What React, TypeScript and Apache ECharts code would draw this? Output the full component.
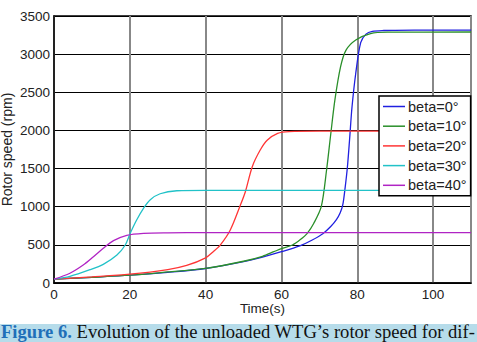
import React, { useEffect, useRef } from "react";
import * as echarts from "echarts";

const seriesNames = ["beta=0°", "beta=10°", "beta=20°", "beta=30°", "beta=40°"];
const seriesColors = ["#2020e0", "#2a8f2a", "#ff3535", "#22c2c8", "#b024c4"];

const beta0: [number, number][] = [
  [0, 50], [10, 75], [20, 102], [30, 140], [40, 190], [50, 280], [55, 340], [60, 410],
  [65, 490], [68, 560], [71, 650], [73, 740], [74.5, 830], [75.5, 920], [76.2, 1030],
  [76.8, 1250], [77.4, 1520], [78, 1900], [78.6, 2300], [79.6, 2750], [80.9, 3150], [82.3, 3262],
  [84, 3298], [87, 3310], [90, 3312], [100, 3315], [110, 3315],
];
const beta10: [number, number][] = [
  [0, 50], [10, 75], [20, 102], [30, 145], [40, 192], [50, 285], [55, 350], [58, 410],
  [60, 450], [62.9, 498], [65, 570], [66.8, 651], [68.5, 780], [70.5, 1000], [71.9, 1481],
  [73, 1950], [74.1, 2400], [75.6, 2835], [77, 3050], [79.6, 3185], [83.5, 3270],
  [88, 3288], [110, 3290],
];
const beta20: [number, number][] = [
  [0, 50], [10, 80], [20, 115], [30, 175], [35, 230], [40, 330], [42, 410], [43.9, 500],
  [46.5, 695], [49, 1000], [50.5, 1200], [52.3, 1525], [54.4, 1743], [56.3, 1874],
  [59, 1962], [62, 1985], [70, 1990], [110, 1990],
];
const beta30: [number, number][] = [
  [0, 50], [4.2, 87], [9.5, 174], [13, 245], [16.6, 367], [18.8, 498], [20.1, 651],
  [21.8, 826], [23.6, 979], [25.4, 1092], [28, 1170], [32.4, 1209], [40, 1215], [110, 1215],
];
const beta40: [number, number][] = [
  [0, 50], [4.2, 128], [7.7, 236], [10.4, 345], [13, 455], [15.7, 555], [19.2, 625],
  [23.6, 651], [30, 658], [40, 660], [110, 660],
];
const seriesData = [beta0, beta10, beta20, beta30, beta40];

const xTitle = "Time(s)";
const yTitle = "Rotor speed (rpm)";
const captionLead = "Figure 6.";
const captionRest = " Evolution of the unloaded WTG’s rotor speed for dif-";

export default function App() {
  const ref = useRef<HTMLDivElement>(null);
  useEffect(() => {
    if (!ref.current) return;
    const chart = echarts.init(ref.current, undefined, { renderer: "svg" });
    chart.setOption({
      animation: false,
      backgroundColor: "#fff",
      textStyle: { fontFamily: "Liberation Sans, Arial, sans-serif" },
      grid: {
        left: 54, top: 16, right: 6, bottom: 59,
        outerBoundsMode: "none", containLabel: false,
        show: true, borderColor: "#000", borderWidth: 1.5, backgroundColor: "transparent",
      },
      xAxis: {
        type: "value", min: 0, max: 110, interval: 20,
        name: xTitle, nameLocation: "middle", nameGap: 18, nameMoveOverlap: false,
        nameTextStyle: { fontSize: 13.5, color: "#222" },
        axisLine: { lineStyle: { color: "#000", width: 1.5 } },
        axisTick: { show: false },
        axisLabel: { fontSize: 13.5, color: "#222", margin: 4, showMaxLabel: false, formatter: (v: number) => String(v) },
        splitLine: { show: true, lineStyle: { color: "#888", width: 2 } },
      },
      yAxis: {
        type: "value", min: 0, max: 3500, interval: 500,
        name: yTitle, nameLocation: "middle", nameGap: 40, nameMoveOverlap: false,
        nameTextStyle: { fontSize: 14, color: "#222" },
        axisLine: { show: true, lineStyle: { color: "#000", width: 1.5 } },
        axisTick: { show: false },
        axisLabel: { fontSize: 13.5, color: "#222", margin: 4, formatter: (v: number) => String(v) },
        splitLine: { show: true, lineStyle: { color: "#000", width: 1 } },
      },
      legend: {
        data: seriesNames,
        orient: "vertical",
        left: 379, top: 96,
        padding: [3, 4, 3, 4],
        itemGap: 4.7,
        itemWidth: 22, itemHeight: 1.5,
        icon: "rect",
        backgroundColor: "#fff",
        borderColor: "#000", borderWidth: 1.5,
        textStyle: { fontSize: 14.5, color: "#222", padding: [0, 0, 0, -2], lineHeight: 14 },
      },
      series: seriesNames.map((name, i) => ({
        name, type: "line", data: seriesData[i], smooth: 0.3, showSymbol: false,
        lineStyle: { color: seriesColors[i], width: 1.3 }, itemStyle: { color: seriesColors[i] },
      })),
      graphic: [
        { type: "rect", left: 0, top: 324, shape: { width: 477, height: 18 }, style: { fill: "#b6dcea" } },
        {
          type: "text", left: 1, top: 322,
          style: {
            text: `{a|${captionLead}}{b|${captionRest}}`,
            rich: {
              a: { fontFamily: "Liberation Serif, serif", fontSize: 18.6, fontWeight: "bold", fill: "#1f6fb8", lineHeight: 19 },
              b: { fontFamily: "Liberation Serif, serif", fontSize: 18.6, fill: "#111", lineHeight: 19 },
            },
          },
        },
      ],
    });
    return () => chart.dispose();
  }, []);
  return (
    <div style={{ position: "fixed", left: 0, top: 0, width: 477, height: 342, overflow: "hidden", background: "#fff" }}>
      <div ref={ref} style={{ width: 477, height: 342 }} />
    </div>
  );
}
